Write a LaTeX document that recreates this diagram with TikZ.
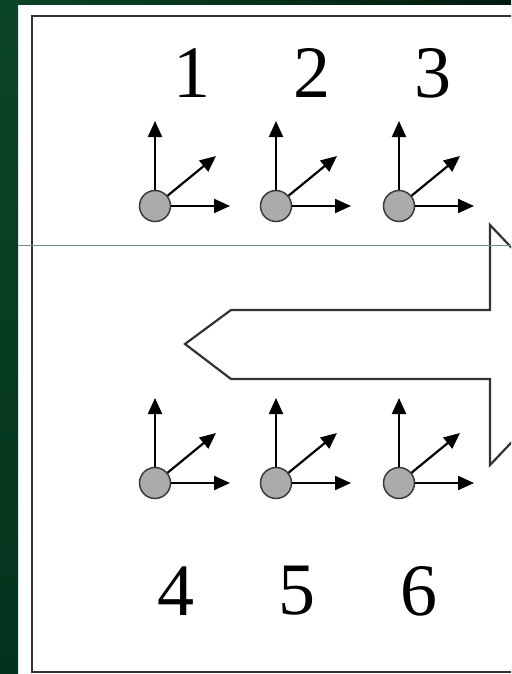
\documentclass[tikz,border=0pt]{standalone}
\usepackage{fontspec}
\setmainfont{Liberation Serif}
\usetikzlibrary{arrows.meta}
\definecolor{bgtop}{HTML}{0B4527}
\definecolor{bgbot}{HTML}{04331D}
\definecolor{bgdark}{HTML}{021A0E}
\definecolor{ballfill}{HTML}{ABABAB}
\definecolor{ballrim}{HTML}{3A3A3A}
\definecolor{frameline}{HTML}{333333}
\definecolor{rule}{HTML}{6F8F80}
\tikzset{
  ball/.style={circle, draw=ballrim, line width=1.5pt, fill=ballfill,
    minimum size=31pt, inner sep=0pt},
  axis/.style={line width=2.2pt, black,
    -{Triangle[length=16pt,width=14pt]}},
  num/.style={inner sep=0pt, font=\fontsize{74}{74}\selectfont},
  bigarrow/.style={line width=2.2pt, draw=frameline, line join=miter},
}
\begin{document}
\begin{tikzpicture}[x=1pt, y=-1pt]
  \useasboundingbox (0,0) rectangle (511,674);
  \begin{scope}
    \clip (0,0) rectangle (511,674);
    % page background with its green edges
    \fill[white] (0,0) rectangle (511,674);
    \shade[left color=bgtop, right color=bgdark] (0,0) rectangle (511,5);
    \shade[top color=bgtop, bottom color=bgbot] (0,0) rectangle (18,674);
    % frame
    \draw[line width=2.4pt, frameline] (32,16) rectangle (540,672);
    % double-headed return arrow
    \draw[bigarrow] (490,225) -- (490,310) -- (231,310) -- (185,344)
      -- (231,379) -- (490,379) -- (490,465) -- (604,345) -- cycle;
    % thin rule across the page
    \draw[rule, line width=0.8pt] (18,245) -- (511,245);
  \end{scope}

  % particles with their axes
  \foreach \i/\x/\y in {1/155/206, 2/276/206, 3/399/206,
                        4/155/483, 5/276/483, 6/399/483} {
    \node[ball] (c\i) at (\x,\y) {};
    \coordinate (u\i) at (\x,\y-85);
    \coordinate (r\i) at (\x+75,\y);
    \coordinate (d\i) at (\x+61,\y-50);
    \draw[axis] (c\i) -- (u\i);
    \draw[axis] (c\i) -- (r\i);
    \draw[axis] (c\i) -- (d\i);
  }

  % labels
  \node[num] (n1) at (192,73) {1};
  \node[num] (n2) at (312,73) {2};
  \node[num] (n3) at (433,73) {3};
  \node[num] (n4) at (176,591) {4};
  \node[num] (n5) at (297,591) {5};
  \node[num] (n6) at (419,591) {6};
\end{tikzpicture}
\end{document}
